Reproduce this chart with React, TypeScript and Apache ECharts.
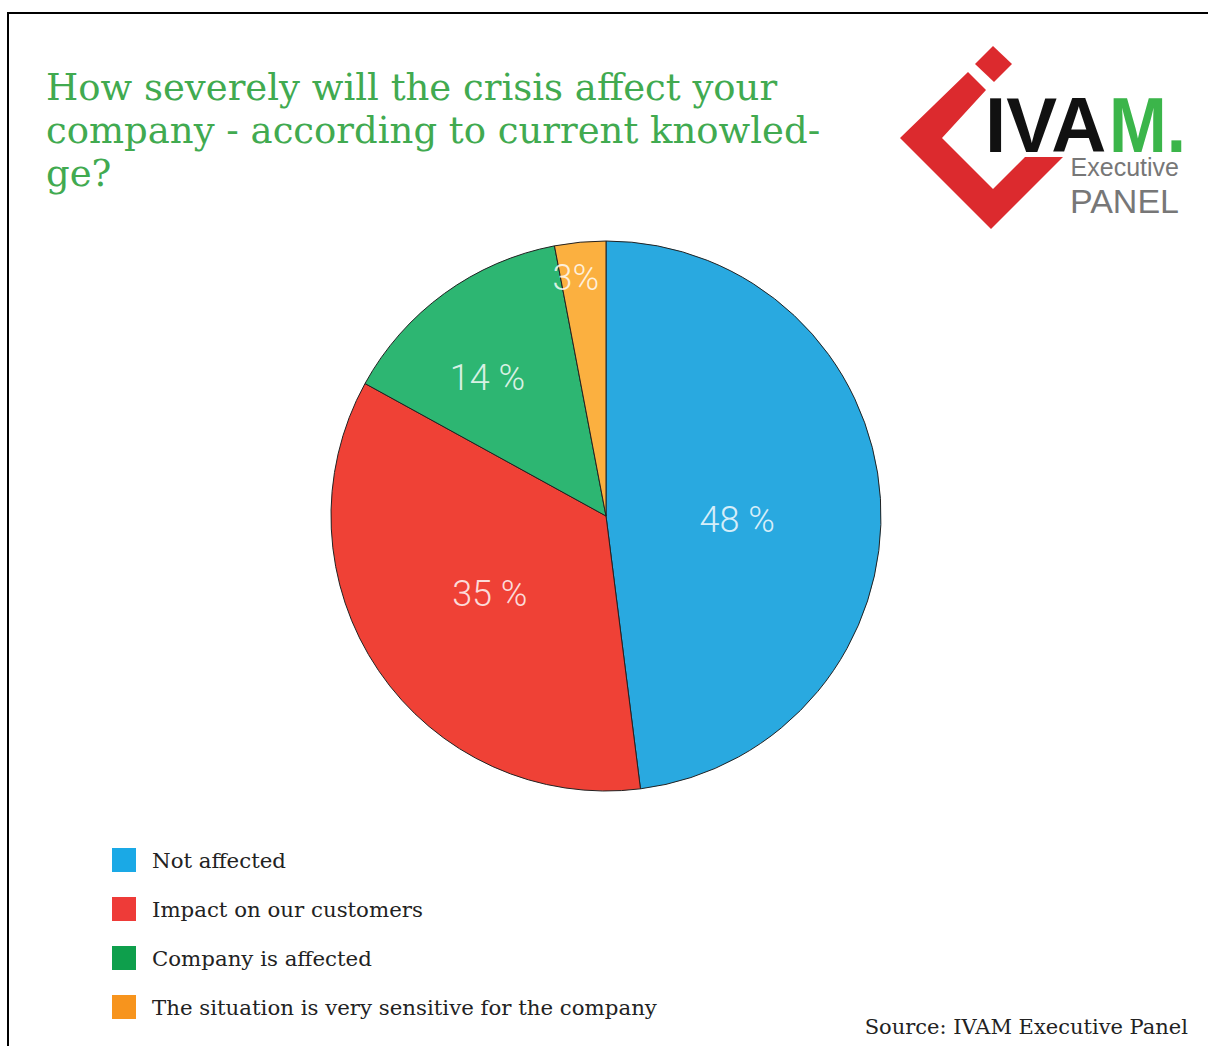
import React, { useEffect, useRef } from "react";
import * as echarts from "echarts";

const categories = [
  "Not affected",
  "Impact on our customers",
  "Company is affected",
  "The situation is very sensitive for the company",
];
const values = [48, 35, 14, 3];
const valueLabels = ["48 %", "35 %", "14 %", "3%"];
const sliceColors = ["#29A9E0", "#EF4136", "#2DB672", "#FBB040"];
const legendColors = ["#1AA9E6", "#EE3B38", "#0E9F4C", "#F7941D"];
const titleText = "How severely will the crisis affect your\ncompany - according to current knowled-\nge?";
const sourceText = "Source: IVAM Executive Panel";

const labelShift: [number, number][] = [
  [-9, 13],
  [0, -1],
  [-36, -24],
  [-17, -98],
];

const SERIF = "'DejaVu Serif', 'Liberation Serif', serif";
const SANS = "'Liberation Sans', Arial, sans-serif";

export default function App() {
  const ref = useRef<HTMLDivElement>(null);
  useEffect(() => {
    if (!ref.current) return;
    const chart = echarts.init(ref.current, undefined, { renderer: "svg" });
    chart.setOption({
      animation: false,
      backgroundColor: "#ffffff",
      title: {
        text: titleText,
        left: 41,
        top: 61,
        textStyle: {
          fontFamily: SERIF,
          fontSize: 37,
          fontWeight: "normal",
          color: "#41AA50",
          lineHeight: 43,
        },
      },
      legend: {
        orient: "vertical",
        left: 112,
        top: 848,
        padding: 0,
        itemWidth: 24,
        itemHeight: 24,
        itemGap: 25,
        icon: "rect",
        selectedMode: false,
        data: categories.map((c, i) => ({ name: c, itemStyle: { color: legendColors[i], borderWidth: 0 } })),
        textStyle: {
          fontFamily: SERIF,
          fontSize: 21.3,
          color: "#222222",
          padding: [0, 0, 0, 11],
        },
      },
      series: [
        {
          type: "pie",
          center: [606, 516],
          radius: [0, 275],
          startAngle: 90,
          clockwise: true,
          data: categories.map((c, i) => ({
            name: c,
            value: values[i],
            itemStyle: { color: sliceColors[i] },
            label: { formatter: valueLabels[i] },
          })),
          itemStyle: { borderColor: "#222222", borderWidth: 1 },
          label: {
            show: true,
            position: "inside",
            fontFamily: "Roboto, sans-serif",
            fontWeight: 300,
            fontSize: 36,
            color: "rgba(255,255,255,0.82)",
          },
          labelLine: { show: false },
          labelLayout: (p: any) => ({ dx: labelShift[p.dataIndex][0], dy: labelShift[p.dataIndex][1] }),
          emphasis: { disabled: true },
        },
      ],
      graphic: [
        {
          type: "rect",
          shape: { x: 8, y: 13, width: 1400, height: 1400 },
          style: { fill: "none", stroke: "#000000", lineWidth: 2 },
          silent: true,
        },
        {
          type: "polygon",
          shape: {
            points: [
              [968, 72],
              [986, 90],
              [942, 138],
              [993, 189],
              [1025, 157],
              [1063, 157],
              [991, 229],
              [900, 138],
            ],
          },
          style: { fill: "#DC2A2E" },
        },
        {
          type: "polygon",
          shape: { points: [[975, 64], [993, 46], [1012, 64], [994, 82]] },
          style: { fill: "#DC2A2E" },
        },
        {
          type: "text",
          x: 985,
          y: 164,
          scaleX: 0.99,
          style: {
            text: "IVA",
            fontFamily: SANS,
            fontSize: 77,
            fontWeight: "bold",
            fill: "#111111",
            verticalAlign: "bottom",
          },
        },
        {
          type: "text",
          x: 1186,
          y: 164,
          scaleX: 0.9,
          style: {
            text: "M.",
            fontFamily: SANS,
            fontSize: 77,
            fontWeight: "bold",
            fill: "#3BB54A",
            align: "right",
            verticalAlign: "bottom",
          },
        },
        {
          type: "text",
          x: 1179,
          y: 179,
          style: {
            text: "Executive",
            fontFamily: SANS,
            fontSize: 25,
            fill: "#777777",
            align: "right",
            verticalAlign: "bottom",
          },
        },
        {
          type: "text",
          x: 1179,
          y: 218,
          style: {
            text: "PANEL",
            fontFamily: SANS,
            fontSize: 34,
            fill: "#777777",
            align: "right",
            verticalAlign: "bottom",
          },
        },
        {
          type: "text",
          x: 1188,
          y: 1037,
          style: {
            text: sourceText,
            fontFamily: SERIF,
            fontSize: 21,
            fill: "#222222",
            align: "right",
            verticalAlign: "bottom",
          },
        },
      ],
    });
    return () => chart.dispose();
  }, []);
  return (
    <div
      ref={ref}
      style={{ position: "absolute", left: 0, top: 0, width: 1208, height: 1046 }}
    />
  );
}
